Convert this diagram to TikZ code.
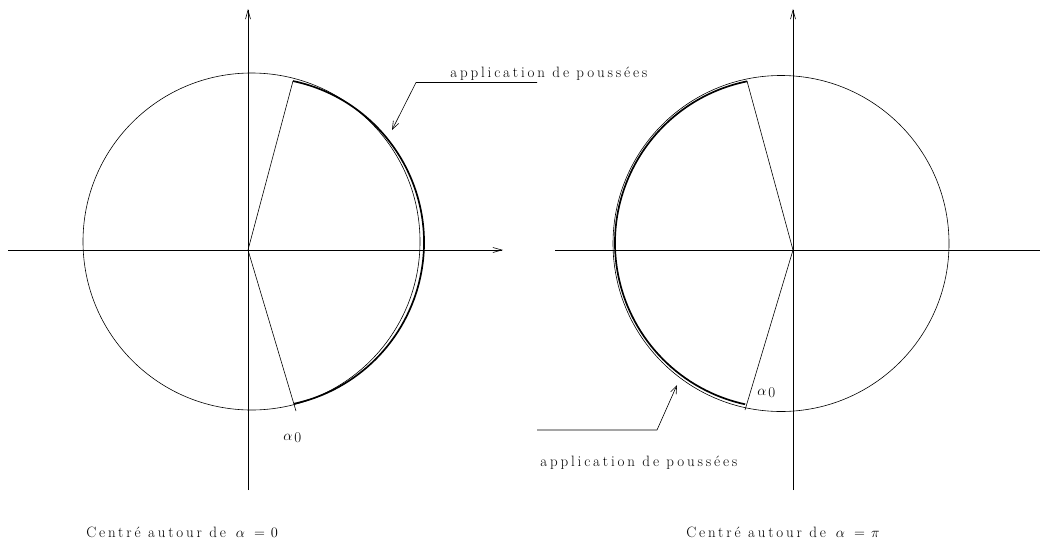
\documentclass[tikz,border=0pt]{standalone}
\usepackage{fontspec}
\usepackage{amsmath,amssymb}
\usepackage{xcolor}
\usepackage{tikz}
\usetikzlibrary{arrows.meta}
\newfontfamily\spacedfont[LetterSpace=19]{Latin Modern Roman}
\newcommand{\alphazero}{$\alpha$\kern2pt\raisebox{-2pt}{0}}

\begin{document}
\begin{tikzpicture}[x=1pt,y=-1pt,line width=0.6pt,
    lbl/.style={font=\spacedfont\fontsize{15}{17}\selectfont, inner sep=0pt},
    axisarrow/.style={-{Straight Barb[length=9pt,width=5pt]}},
    leader/.style={-{Straight Barb[length=8pt,width=6pt]}},
    thrust/.style={line width=1.7pt}]
        \useasboundingbox (0,0) rectangle (1040,543);

        % left: centred on alpha = 0
        \coordinate (o1) at (248,250);
        \coordinate (w1) at (8,250);
        \coordinate (e1) at (503,250);
        \coordinate (s1) at (248,490);
        \coordinate (n1) at (248,9);
        \coordinate (c1) at (251.5,241.5);
        \coordinate (k1) at (259,242.5);
        \coordinate (p1) at (293,81);
        \coordinate (q1) at (296,411);

        \draw[axisarrow] (w1) -- (e1);
        \draw[axisarrow] (s1) -- (n1);
        \draw (c1) circle[radius=168.5pt];
        \draw[thrust] ([shift={(78.1:165pt)}]k1) arc[start angle=78.1, end angle=-77.8, radius=165pt];
        \draw (p1) -- (o1) -- (q1);

        \node[lbl, anchor=base west] (alpha1) at (283,440) {\alphazero};
        \node[lbl, anchor=base west] (push1) at (450,77) {application de pouss\'ees};
        \coordinate (l1a) at (537,82.5);
        \coordinate (l1b) at (416,82.5);
        \coordinate (l1c) at (392,130);
        \draw[leader] (l1a) -- (l1b) -- (l1c);
        \node[lbl, anchor=base west] (cap1) at (86,537) {Centr\'e autour de\hspace{10pt}$\alpha\hspace{9pt}{=}\hspace{6pt}0$};

        % right: centred on alpha = pi
        \coordinate (o2) at (793,250);
        \coordinate (w2) at (555,250);
        \coordinate (e2) at (1040,250);
        \coordinate (s2) at (793,490);
        \coordinate (n2) at (793,9);
        \coordinate (c2) at (781,243.5);
        \coordinate (k2) at (780,243);
        \coordinate (p2) at (747,81);
        \coordinate (q2) at (745,410);

        \draw (w2) -- (e2);
        \draw[axisarrow] (s2) -- (n2);
        \draw (c2) circle[radius=168pt];
        \draw[thrust] ([shift={(101.5:165pt)}]k2) arc[start angle=101.5, end angle=257.8, radius=165pt];
        \draw (p2) -- (o2) -- (q2);

        \node[lbl, anchor=base west] (alpha2) at (757,395) {\alphazero};
        \node[lbl, anchor=base west] (push2) at (540,466) {application de pouss\'ees};
        \coordinate (l2a) at (537,430);
        \coordinate (l2b) at (657,430);
        \coordinate (l2c) at (677,385);
        \draw[leader] (l2a) -- (l2b) -- (l2c);
        \node[lbl, anchor=base west] (cap2) at (686,537) {Centr\'e autour de\hspace{10pt}$\alpha\hspace{9pt}{=}\hspace{6pt}\pi$};
    \end{tikzpicture}
\end{document}
